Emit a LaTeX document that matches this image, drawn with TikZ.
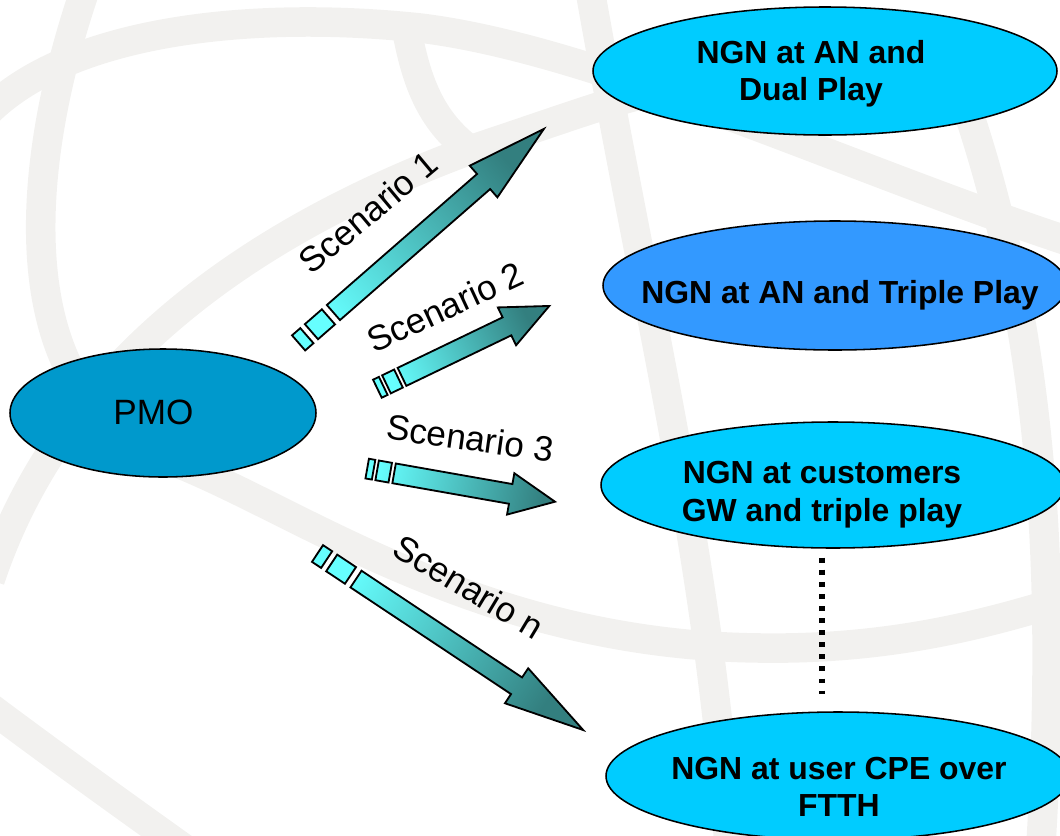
\documentclass[tikz,border=0pt]{standalone}
\usepackage{fontspec}
\setmainfont{Liberation Sans}
\usetikzlibrary{shapes.geometric}

\definecolor{ngncyan}{HTML}{00CCFF}
\definecolor{triplecolor}{HTML}{3399FF}
\definecolor{pmocolor}{HTML}{0099CC}
\definecolor{arrowlight}{HTML}{66FFFF}
\definecolor{arrowdark}{HTML}{337F7F}
\definecolor{bandgray}{HTML}{F2F1EF}

\newlength{\pxu}
\setlength{\pxu}{0.025cm}

% striped arrow: tail, angle, length, head length, stripe unit
\newcommand{\scenarioarrow}[5]{%
  \pgfmathsetmacro{\arrowshade}{#2+90}%
  \begin{scope}[shift={(#1)}, rotate=#2]
    \shadedraw[stripe arrow, shading angle=\arrowshade]
      (0,-10) rectangle (#5,10)
      (1.55*#5,-10) rectangle (3.6*#5,10)
      (4.2*#5,-10) -- (#3-#4,-10) -- (#3-#4,-21) -- (#3,0)
      -- (#3-#4,21) -- (#3-#4,10) -- (4.2*#5,10) -- cycle;
  \end{scope}}

\begin{document}
\begin{tikzpicture}[x=0.025cm, y=-0.025cm,
    band/.style={draw=bandgray, line width=21pt},
    oval/.style={ellipse, draw=black, line width=1.1pt, inner sep=0,
      minimum width=464\pxu, minimum height=128\pxu},
    ngn text/.style={align=center, inner sep=0,
      font=\fontsize{22.7}{26.6}\selectfont\bfseries},
    scenario text/.style={inner sep=0, font=\fontsize{25}{29}\selectfont},
    stripe arrow/.style={draw=black, line width=1.3pt,
      top color=arrowlight, bottom color=arrowdark},
    dots line/.style={line width=4pt, dash pattern=on 3.5pt off 5.1pt}]
  \useasboundingbox (0,0) rectangle (1060,836);
  \clip (0,0) rectangle (1060,836);
  % watermark
  \draw[band] (85,-10) .. controls (20,180) and (10,400) .. (170,460)
    .. controls (300,510) and (480,645) .. (760,648)
    .. controls (900,650) and (1000,620) .. (1080,595);
  \draw[band] (-10,580) .. controls (50,400) and (200,250) .. (470,150)
    .. controls (560,120) and (600,105) .. (640,95);
  \draw[band] (-20,700) .. controls (60,760) and (130,810) .. (200,860);
  \draw[band] (-20,120) .. controls (60,30) and (250,10) .. (420,28)
    .. controls (600,50) and (850,170) .. (1080,245);
  \draw[band] (405,20) .. controls (415,80) and (430,120) .. (470,150);
  \draw[band] (590,-10) .. controls (650,330) and (710,560) .. (730,860);
  \draw[band] (950,60) .. controls (1040,300) and (1060,550) .. (1040,860);
  % ovals
  \node[oval, fill=pmocolor, minimum width=306\pxu] (pmo) at (163,413) {};
  \node[inner sep=0, font=\fontsize{25}{30}\selectfont] (pmotext) at (153.5,412) {PMO};
  \node[oval, fill=ngncyan] (dual) at (825,71) {};
  \node[ngn text] (dualtext) at (811,73.6) {NGN at AN and\\Dual Play};
  \node[oval, fill=triplecolor, minimum height=129\pxu] (triple) at (835,285.5) {};
  \node[ngn text] (tripletext) at (840,295) {NGN at AN and Triple Play};
  \node[oval, fill=ngncyan, minimum height=126\pxu] (gw) at (833,485) {};
  \node[ngn text] (gwtext) at (822,494.7) {NGN at customers\\GW and triple play};
  \node[oval, fill=ngncyan] (cpe) at (838,776) {};
  \node[ngn text] (cpetext) at (839,787) {NGN at user CPE over\\FTTH};
  \draw[dots line, shorten <=6.3pt, shorten >=12pt]
    (gwtext.south |- gw.south) -- (gwtext.south |- cpe.north);
  % scenario arrows
  \coordinate (tailone) at (298.6,342.9);
  \coordinate (tailtwo) at (377.4,388.7);
  \coordinate (tailthree) at (367.2,468.6);
  \coordinate (tailn) at (317.5,553.5);
  \scenarioarrow{tailone}{41.1}{325.5}{80}{11}
  \scenarioarrow{tailtwo}{25.7}{190.8}{47}{6.5}
  \scenarioarrow{tailthree}{-10}{190.7}{45}{6.5}
  \scenarioarrow{tailn}{-33.6}{319}{80}{11}
  \node[scenario text, rotate=40] (labelone) at (368,212) {Scenario 1};
  \node[scenario text, rotate=25] (labeltwo) at (445,307) {Scenario 2};
  \node[scenario text, rotate=-8] (labelthree) at (470,438) {Scenario 3};
  \node[scenario text, rotate=-31] (labeln) at (469,587) {Scenario n};
\end{tikzpicture}
\end{document}
